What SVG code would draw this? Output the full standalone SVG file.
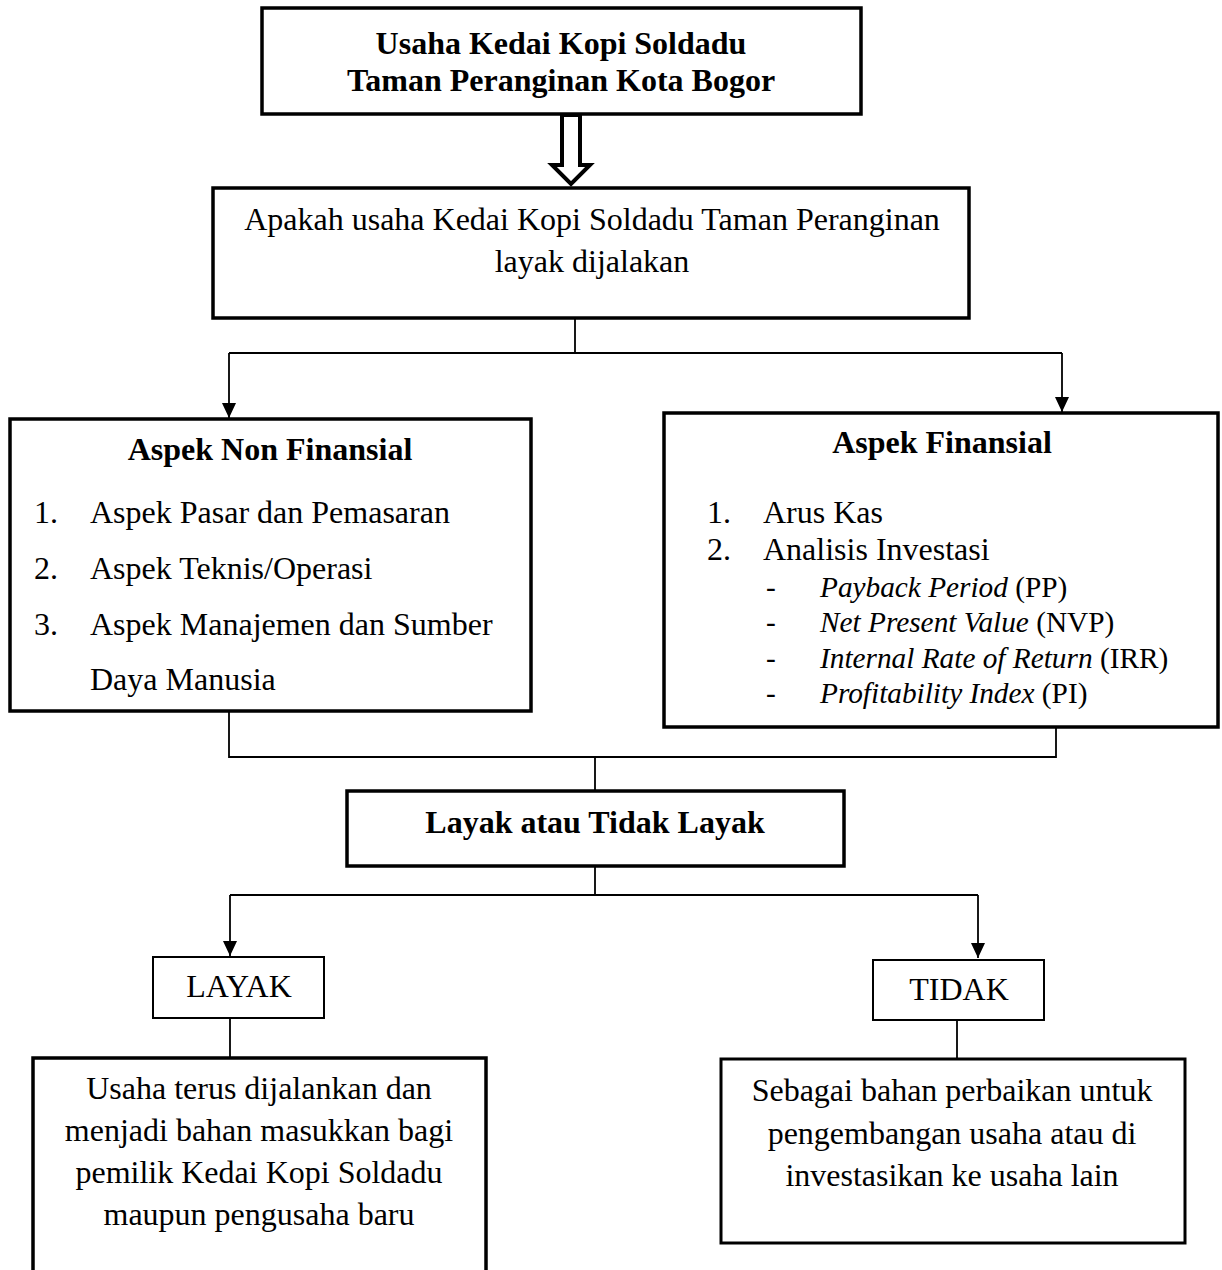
<svg xmlns="http://www.w3.org/2000/svg" width="1222" height="1270" viewBox="0 0 1222 1270">
<defs>
<style>
.box{fill:#fff;stroke:#000;stroke-width:3.5}
.thin{fill:#fff;stroke:#000;stroke-width:2}
.t{font-family:"Liberation Serif","Times New Roman",serif;font-size:32px;fill:#000}
.b{font-weight:bold}
.c{text-anchor:middle}
.s{font-size:29.3px}
.i{font-style:italic}
.ln{fill:none;stroke:#000;stroke-width:1.8}
</style>
<marker id="ah" markerUnits="userSpaceOnUse" markerWidth="16" markerHeight="16" viewBox="0 0 16 16" refX="15" refY="8" orient="auto">
<path d="M0,1 L15,8 L0,15 Z" fill="#000"/>
</marker>
</defs>
<rect width="1222" height="1270" fill="#fff"/>

<g id="connectors">
<path class="ln" d="M575,318 V353 M229,353 H1062"/>
<path class="ln" d="M229,353 V418" marker-end="url(#ah)"/>
<path class="ln" d="M1062,353 V412" marker-end="url(#ah)"/>
<path class="ln" d="M229,711 V757 H1056 V727 M595,757 V791"/>
<path class="ln" d="M595,866 V895 M230,895 H978"/>
<path class="ln" d="M230,895 V956" marker-end="url(#ah)"/>
<path class="ln" d="M978,895 V958" marker-end="url(#ah)"/>
<path class="ln" d="M230,1018 V1058 M957,1020 V1059"/>
<path d="M562,115 L562,165 L552,165 L571,184 L590,165 L580,165 L580,115 Z" fill="#fff" stroke="#000" stroke-width="4" stroke-linejoin="miter"/>
</g>

<g id="n-title">
<rect class="box" x="262" y="8" width="599" height="106"/>
<text class="t b c" x="561" y="54">Usaha Kedai Kopi Soldadu</text>
<text class="t b c" x="561" y="91">Taman Peranginan Kota Bogor</text>
</g>

<g id="n-question">
<rect class="box" x="213" y="188" width="756" height="130"/>
<text class="t c" x="592" y="230">Apakah usaha Kedai Kopi Soldadu Taman Peranginan</text>
<text class="t c" x="592" y="272">layak dijalakan</text>
</g>

<g id="n-nonfin">
<rect class="box" x="10" y="419" width="521" height="292"/>
<text class="t b c" x="270" y="460">Aspek Non Finansial</text>
<text class="t" x="34" y="523">1.</text><text class="t" x="90" y="523">Aspek Pasar dan Pemasaran</text>
<text class="t" x="34" y="579">2.</text><text class="t" x="90" y="579">Aspek Teknis/Operasi</text>
<text class="t" x="34" y="635">3.</text><text class="t" x="90" y="635">Aspek Manajemen dan Sumber</text>
<text class="t" x="90" y="690">Daya Manusia</text>
</g>

<g id="n-fin">
<rect class="box" x="664" y="413" width="554" height="314"/>
<text class="t b c" x="942" y="453">Aspek Finansial</text>
<text class="t" x="707" y="523">1.</text><text class="t" x="763" y="523">Arus Kas</text>
<text class="t" x="707" y="560">2.</text><text class="t" x="763" y="560">Analisis Investasi</text>
<text class="t s" x="766" y="597">-</text><text class="t s" x="820" y="597"><tspan class="i">Payback Period</tspan> (PP)</text>
<text class="t s" x="766" y="632">-</text><text class="t s" x="820" y="632"><tspan class="i">Net Present Value</tspan> (NVP)</text>
<text class="t s" x="766" y="668">-</text><text class="t s" x="820" y="668"><tspan class="i">Internal Rate of Return</tspan> (IRR)</text>
<text class="t s" x="766" y="703">-</text><text class="t s" x="820" y="703"><tspan class="i">Profitability Index</tspan> (PI)</text>
</g>

<g id="n-decision">
<rect class="box" x="347" y="791" width="497" height="75"/>
<text class="t b c" x="595" y="833">Layak atau Tidak Layak</text>
</g>

<g id="n-layak">
<rect class="thin" x="153" y="957" width="171" height="61"/>
<text class="t c" x="239" y="997">LAYAK</text>
</g>

<g id="n-tidak">
<rect class="thin" x="873" y="960" width="171" height="60"/>
<text class="t c" x="959" y="1000">TIDAK</text>
</g>

<g id="n-layak-result">
<rect class="box" x="33" y="1058" width="453" height="230"/>
<text class="t c" x="259" y="1099">Usaha terus dijalankan dan</text>
<text class="t c" x="259" y="1141">menjadi bahan masukkan bagi</text>
<text class="t c" x="259" y="1183">pemilik Kedai Kopi Soldadu</text>
<text class="t c" x="259" y="1225">maupun pengusaha baru</text>
</g>

<g id="n-tidak-result">
<rect class="box" x="721" y="1059" width="464" height="184" style="stroke-width:3"/>
<text class="t c" x="952" y="1101">Sebagai bahan perbaikan untuk</text>
<text class="t c" x="952" y="1144">pengembangan usaha atau di</text>
<text class="t c" x="952" y="1186">investasikan ke usaha lain</text>
</g>
</svg>
